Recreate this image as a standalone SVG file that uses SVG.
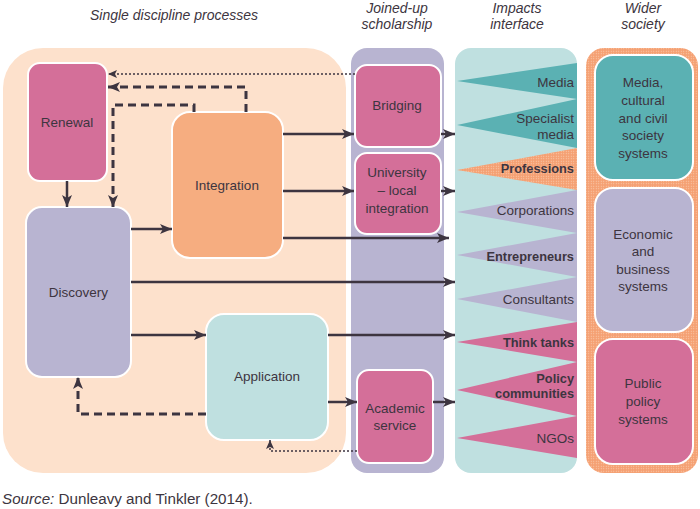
<svg xmlns="http://www.w3.org/2000/svg" width="700" height="509" viewBox="0 0 700 509">
<style>
text{font-family:"Liberation Sans",Arial,sans-serif;fill:#3d3540}
.h{font-size:14px;font-style:italic;text-anchor:middle}
.t{font-size:13.5px;text-anchor:middle}
.r{font-size:13.5px;text-anchor:end}
.b{font-size:12.8px;font-weight:bold;text-anchor:end}
.box{stroke:#fff;stroke-width:2}
.pink{fill:#d46f99}.lav{fill:#b8b4d1}.orng{fill:#f6ad80}.lteal{fill:#bfe0e0}.dteal{fill:#5bb1b3}
.ln{fill:none;stroke:#3d3540}
.solid{stroke-width:2.5}
.dash{stroke-width:3;stroke-dasharray:8 5}
.dot{stroke-width:1.5;stroke-dasharray:2 2}
</style>
<defs>
<marker id="ah" markerUnits="userSpaceOnUse" markerWidth="12" markerHeight="10" viewBox="0 0 12 10" refX="12" refY="5" orient="auto">
<path d="M0,0 L12,5 L0,10 L3,5 z" fill="#3d3540"/>
</marker>
<marker id="ahs" markerUnits="userSpaceOnUse" markerWidth="9" markerHeight="8" viewBox="0 0 9 8" refX="9" refY="4" orient="auto">
<path d="M0,0 L9,4 L0,8 L2,4 z" fill="#3d3540"/>
</marker>
<pattern id="dots" width="2.5" height="2.5" patternUnits="userSpaceOnUse">
<rect width="2.5" height="2.5" fill="#f5a072"/>
<circle cx="1.25" cy="1.25" r="0.55" fill="#fcd0b6"/>
</pattern>
</defs>

<g id="headers">
<text class="h" x="174" y="20">Single discipline processes</text>
<text class="h" x="397" y="13">Joined-up</text>
<text class="h" x="397" y="29">scholarship</text>
<text class="h" x="517" y="13">Impacts</text>
<text class="h" x="517" y="29">interface</text>
<text class="h" x="643" y="13">Wider</text>
<text class="h" x="643" y="29">society</text>
</g>

<g id="panels">
<rect x="3" y="48" width="343" height="425" rx="40" fill="#fde1cc"/>
<rect x="351" y="48" width="93" height="425" rx="16" class="lav"/>
<rect x="455" y="48" width="122" height="425" rx="16" class="lteal"/>
<rect x="586" y="48" width="112" height="425" rx="18" fill="url(#dots)"/>
</g>

<g id="impacts">
<polygon points="577,63 577,99 457,81" class="dteal"/>
<polygon points="577,99 577,148 457,125" class="dteal"/>
<polygon points="577,148 577,190 457,170" fill="url(#dots)"/>
<polygon points="577,190 577,233 457,212" class="lav"/>
<polygon points="577,233 577,277 457,255" class="lav"/>
<polygon points="577,277 577,322 457,299" class="lav"/>
<polygon points="577,322 577,362 457,342" class="pink"/>
<polygon points="577,362 577,416 457,390" class="pink"/>
<polygon points="577,416 577,458 457,438" class="pink"/>
<text class="r" x="574" y="87">Media</text>
<text class="r" x="574" y="123">Specialist</text>
<text class="r" x="574" y="139">media</text>
<text class="b" x="574" y="173">Professions</text>
<text class="r" x="574" y="215">Corporations</text>
<text class="b" x="574" y="261">Entrepreneurs</text>
<text class="r" x="574" y="304">Consultants</text>
<text class="b" x="574" y="347">Think tanks</text>
<text class="b" x="574" y="383">Policy</text>
<text class="b" x="574" y="398">communities</text>
<text class="r" x="574" y="443">NGOs</text>
</g>

<g id="renewal"><rect x="28" y="63" width="79" height="118" rx="12" class="box pink"/><text class="t" x="67" y="127">Renewal</text></g>
<g id="discovery"><rect x="26" y="207" width="105" height="170" rx="16" class="box lav"/><text class="t" x="78.5" y="297">Discovery</text></g>
<g id="integration"><rect x="172" y="112" width="111" height="146" rx="18" class="box orng"/><text class="t" x="227" y="190">Integration</text></g>
<g id="application"><rect x="206" y="314" width="122" height="126" rx="18" class="box lteal"/><text class="t" x="267" y="381">Application</text></g>
<g id="bridging"><rect x="355" y="65" width="86" height="82" rx="12" class="box pink"/><text class="t" x="397" y="110">Bridging</text></g>
<g id="university"><rect x="355" y="153" width="86" height="81" rx="12" class="box pink"/><text class="t" x="397" y="177">University</text><text class="t" x="397" y="195">– local</text><text class="t" x="397" y="213">integration</text></g>
<g id="academic"><rect x="357" y="370" width="76" height="93" rx="12" class="box pink"/><text class="t" x="395" y="413">Academic</text><text class="t" x="395" y="430">service</text></g>
<g id="media-systems"><rect x="595" y="55" width="98" height="125" rx="18" class="box dteal"/><text class="t" x="643" y="87">Media,</text><text class="t" x="643" y="105">cultural</text><text class="t" x="643" y="123">and civil</text><text class="t" x="643" y="140">society</text><text class="t" x="643" y="158">systems</text></g>
<g id="economic-systems"><rect x="595" y="188" width="98" height="144" rx="18" class="box lav"/><text class="t" x="643" y="239">Economic</text><text class="t" x="643" y="256">and</text><text class="t" x="643" y="274">business</text><text class="t" x="643" y="291">systems</text></g>
<g id="public-systems"><rect x="595" y="339" width="98" height="125" rx="18" class="box pink"/><text class="t" x="643" y="388">Public</text><text class="t" x="643" y="406">policy</text><text class="t" x="643" y="424">systems</text></g>

<g id="connectors">
<path class="ln dot" d="M355,74 H108" marker-end="url(#ahs)"/>
<path class="ln dash" d="M246,112 V87 H108" marker-end="url(#ah)"/>
<path class="ln dash" d="M194,112 V105 H113 V207" marker-end="url(#ah)"/>
<path class="ln solid" d="M67,181 V207" marker-end="url(#ah)"/>
<path class="ln solid" d="M131,229 H172" marker-end="url(#ah)"/>
<path class="ln solid" d="M283,134 H354" marker-end="url(#ah)"/>
<path class="ln solid" d="M283,191 H354" marker-end="url(#ah)"/>
<path class="ln solid" d="M283,238 H449" marker-end="url(#ah)"/>
<path class="ln solid" d="M131,282 H455" marker-end="url(#ah)"/>
<path class="ln solid" d="M131,335 H206" marker-end="url(#ah)"/>
<path class="ln solid" d="M328,335 H455" marker-end="url(#ah)"/>
<path class="ln solid" d="M328,402 H357" marker-end="url(#ah)"/>
<path class="ln solid" d="M433,402 H455" marker-end="url(#ah)"/>
<path class="ln solid" d="M441,134 H455" marker-end="url(#ah)"/>
<path class="ln solid" d="M441,191 H455" marker-end="url(#ah)"/>
<path class="ln dash" d="M206,414 H78 V377" marker-end="url(#ah)"/>
<path class="ln dot" d="M357,451 H270 V440" marker-end="url(#ahs)"/>
</g>

<g id="source">
<text x="2" y="504" style="font-size:15.2px"><tspan font-style="italic">Source:</tspan> Dunleavy and Tinkler (2014).</text>
</g>
</svg>
